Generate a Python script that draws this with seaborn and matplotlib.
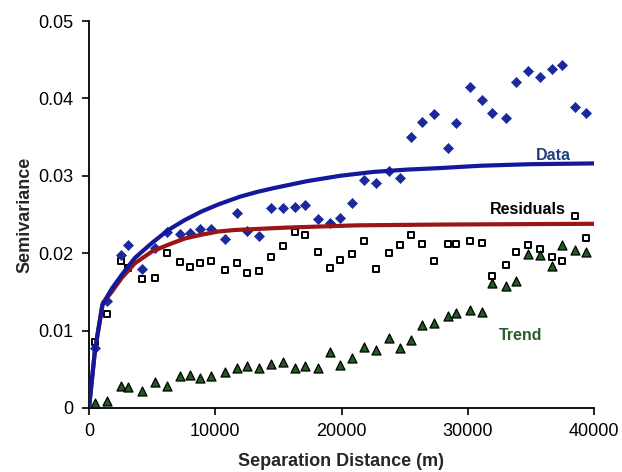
import numpy as np
import pandas as pd
import matplotlib
matplotlib.use("Agg")
import matplotlib.pyplot as plt
import seaborn as sns

# Lag distances (m)
lag = [500, 1400, 2500, 3100, 4200, 5200, 6200, 7200, 8000, 8800, 9700, 10800,
       11700, 12500, 13500, 14400, 15400, 16300, 17100, 18100, 19100, 19900,
       20800, 21800, 22700, 23800, 24600, 25500, 26400, 27300, 28400, 29100,
       30200, 31100, 31900, 33000, 33800, 34800, 35700, 36700, 37500, 38500, 39400]

data_sv = [0.0078, 0.0138, 0.0198, 0.0211, 0.0180, 0.0207, 0.0227, 0.0225, 0.0226,
           0.0231, 0.0231, 0.0218, 0.0252, 0.0229, 0.0222, 0.0258, 0.0258, 0.0260,
           0.0262, 0.0244, 0.0239, 0.0245, 0.0265, 0.0295, 0.0291, 0.0306, 0.0297,
           0.0350, 0.0370, 0.0380, 0.0336, 0.0368, 0.0415, 0.0398, 0.0381, 0.0375,
           0.0421, 0.0435, 0.0428, 0.0438, 0.0443, 0.0389, 0.0381]

resid_sv = [0.0085, 0.0121, 0.0190, 0.0181, 0.0167, 0.0168, 0.0200, 0.0189, 0.0182,
            0.0187, 0.0190, 0.0178, 0.0187, 0.0174, 0.0177, 0.0195, 0.0209, 0.0227,
            0.0224, 0.0202, 0.0181, 0.0191, 0.0199, 0.0216, 0.0180, 0.0200, 0.0211,
            0.0224, 0.0212, 0.0190, 0.0212, 0.0212, 0.0216, 0.0213, 0.0171, 0.0185,
            0.0202, 0.0211, 0.0205, 0.0195, 0.0190, 0.0248, 0.0220]

trend_sv = [0.0007, 0.0009, 0.0028, 0.0027, 0.0022, 0.0034, 0.0028, 0.0041, 0.0043,
            0.0039, 0.0041, 0.0047, 0.0052, 0.0054, 0.0052, 0.0057, 0.0059, 0.0052,
            0.0054, 0.0052, 0.0072, 0.0056, 0.0065, 0.0079, 0.0075, 0.0090, 0.0078,
            0.0088, 0.0107, 0.0110, 0.0119, 0.0123, 0.0127, 0.0124, 0.0162, 0.0158,
            0.0164, 0.0199, 0.0198, 0.0184, 0.0211, 0.0204, 0.0202]

# Fitted model curves
data_fit_x = [0, 475, 1050, 1800, 2590, 3640, 4970, 6280, 7600, 8930, 10240, 11960,
              13280, 14600, 17240, 19880, 22520, 25160, 27800, 31000, 34930, 40000]
data_fit_y = [0, 0.0075, 0.0133, 0.0154, 0.0172, 0.0194, 0.0213, 0.0230, 0.0243,
              0.0254, 0.0263, 0.0273, 0.0279, 0.0284, 0.0293, 0.0300, 0.0305, 0.0308,
              0.0310, 0.0313, 0.0315, 0.0316]

resid_fit_x = [0, 475, 1110, 1800, 2590, 3640, 4970, 6280, 7600, 8930, 10240, 11560,
               12880, 15520, 21200, 27800, 40000]
resid_fit_y = [0, 0.0075, 0.0136, 0.0150, 0.0168, 0.0187, 0.0202, 0.0211, 0.0219,
               0.0224, 0.0228, 0.0230, 0.0231, 0.0233, 0.0236, 0.0237, 0.0238]

x_ticks = [0, 10000, 20000, 30000, 40000]
y_ticks = [0, 0.01, 0.02, 0.03, 0.04, 0.05]
y_ticklabels = ["0", "0.01", "0.02", "0.03", "0.04", "0.05"]

sns.set_theme(style="ticks")
plt.rcParams['font.family'] = ['Liberation Sans', 'DejaVu Sans']

fig = plt.figure(figsize=(6.22, 4.72), dpi=100)
ax = fig.add_axes([89/622, 1-408/472, (594-89)/622, (408-21)/472])

pts = pd.DataFrame({"lag": lag, "data": data_sv, "resid": resid_sv, "trend": trend_sv})
dfit = pd.DataFrame({"x": data_fit_x, "y": data_fit_y})
rfit = pd.DataFrame({"x": resid_fit_x, "y": resid_fit_y})

sns.scatterplot(data=pts, x="lag", y="resid", marker="s", s=22, facecolor="white",
                edgecolor="black", linewidth=1.4, ax=ax, zorder=3)
sns.scatterplot(data=pts, x="lag", y="trend", marker="^", s=42, color="#1f5c1f",
                edgecolor="black", linewidth=0.9, ax=ax, zorder=3)
sns.scatterplot(data=pts, x="lag", y="data", marker="D", s=26, color="#1a2a9c",
                edgecolor="#1a2a9c", linewidth=0.5, ax=ax, zorder=4)

sns.lineplot(data=rfit, x="x", y="y", sort=False, estimator=None, color="#9a1616",
             linewidth=3, ax=ax, zorder=5, solid_joinstyle="round", solid_capstyle="round")
sns.lineplot(data=dfit, x="x", y="y", sort=False, estimator=None, color="#13199a",
             linewidth=3, ax=ax, zorder=6, solid_joinstyle="round", solid_capstyle="round")

ax.text(36800, 0.0326, "Data", color="#1f3f80", fontsize=11.5, fontweight="bold",
        ha="center", va="center")
ax.text(34770, 0.0257, "Residuals", color="black", fontsize=11.5, fontweight="bold",
        ha="center", va="center")
ax.text(34150, 0.0094, "Trend", color="#2d5e2d", fontsize=11.5, fontweight="bold",
        ha="center", va="center")

ax.set_xlim(0, 40000)
ax.set_ylim(0, 0.05)
ax.set_xticks(x_ticks)
ax.set_xticklabels([str(t) for t in x_ticks])
ax.set_yticks(y_ticks)
ax.set_yticklabels(y_ticklabels)
ax.tick_params(axis="both", labelsize=13, length=5, width=1.2, colors="black",
               direction="out", pad=6)
ax.set_xlabel("Separation Distance (m)", fontsize=13, fontweight="bold", labelpad=9)
ax.set_ylabel("Semivariance", fontsize=13, fontweight="bold", labelpad=4)
for s in ["top", "right"]:
    ax.spines[s].set_visible(False)
for s in ["left", "bottom"]:
    ax.spines[s].set_linewidth(1.3)
    ax.spines[s].set_color("black")

fig.savefig("out.png", dpi=100)
